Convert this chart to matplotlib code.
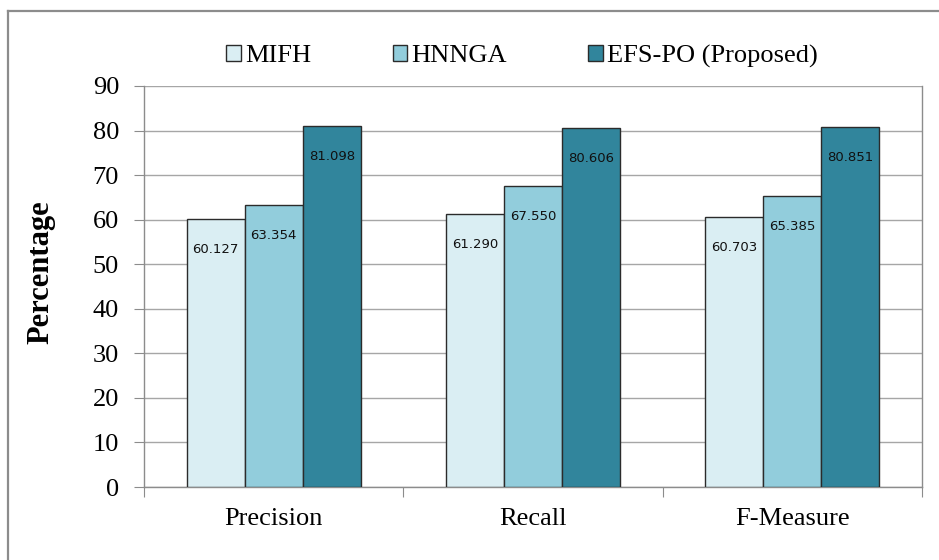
import numpy as np
import matplotlib.pyplot as plt
from matplotlib.lines import Line2D

# data
categories = ['Precision', 'Recall', 'F-Measure']
series_names = ['MIFH', 'HNNGA', 'EFS-PO (Proposed)']
mifh = [60.127, 61.290, 60.703]
hnnga = [63.354, 67.550, 65.385]
efs_po = [81.098, 80.606, 80.851]
colors = ['#DAEEF3', '#92CDDC', '#31859C']

fig = plt.figure(figsize=(9.39, 5.6), dpi=100)
ax = fig.add_axes([144 / 939, 1 - 487 / 560, (922 - 144) / 939, (487 - 86) / 560])

serif = ['Liberation Serif', 'DejaVu Serif']
x = np.arange(len(categories))
width = 0.224
for i, (name, vals) in enumerate(zip(series_names, [mifh, hnnga, efs_po])):
    pos = x + (i - 1) * width
    bars = ax.bar(pos, vals, width, color=colors[i], edgecolor='#2b2b2b',
                  linewidth=1.0, label=name, zorder=3)
    for b, v in zip(bars, vals):
        ax.annotate(f'{v:.3f}', (b.get_x() + b.get_width() / 2, v),
                    xytext=(0, -22), textcoords='offset points',
                    ha='center', va='center', fontsize=9.5, color='#111111',
                    zorder=4)

ax.set_ylim(0, 90)
ax.set_xlim(-0.5, 2.5)
ax.set_yticks(np.arange(0, 91, 10))
ax.yaxis.grid(True, color='#a6a6a6', linewidth=1.0, zorder=0)
ax.set_axisbelow(True)

# ticks at category boundaries, labels at centers
ax.set_xticks([-0.5, 0.5, 1.5, 2.5])
ax.set_xticklabels([])
ax.set_xticks(x, minor=True)
ax.set_xticklabels(categories, minor=True, fontsize=19, family=serif)
ax.tick_params(axis='x', which='major', length=7, color='#8c8c8c', direction='out')
ax.tick_params(axis='x', which='minor', length=0, pad=15)
ax.tick_params(axis='y', length=7, color='#8c8c8c', direction='out', pad=11)
for lbl in ax.get_yticklabels():
    lbl.set_fontsize(19)
    lbl.set_family(serif)

for side in ['left', 'bottom', 'right']:
    ax.spines[side].set_color('#8c8c8c')
    ax.spines[side].set_linewidth(1.0)
ax.spines['top'].set_visible(False)

ax.set_ylabel('Percentage', fontsize=22, fontweight='bold', family=serif)
ax.yaxis.set_label_coords(-0.114, 0.536)

leg = fig.legend(loc='center', bbox_to_anchor=(522 / 939, 1 - 56 / 560), ncol=3,
                 frameon=False, handlelength=0.55, handleheight=0.55,
                 handletextpad=0.15, columnspacing=3.1,
                 prop={'family': serif, 'size': 19})

# outer chart border (gray, clipped at right/bottom)
fig.add_artist(Line2D([8 / 939, 8 / 939], [0, 1 - 11 / 560], color='#8c8c8c',
                      linewidth=1.6, transform=fig.transFigure))
fig.add_artist(Line2D([8 / 939, 1], [1 - 11 / 560, 1 - 11 / 560], color='#8c8c8c',
                      linewidth=1.6, transform=fig.transFigure))

fig.savefig('out.png', dpi=100)
